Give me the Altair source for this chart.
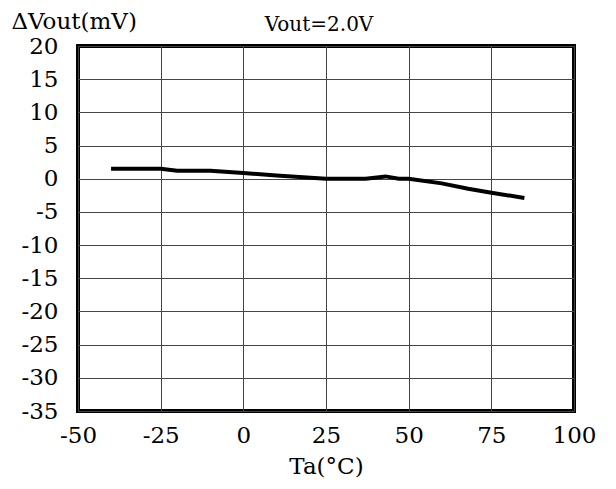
import altair as alt
import pandas as pd

temps = [-40, -25, -20, -10, 0, 10, 25, 37, 43, 47, 50, 60, 68, 75, 85]
dvout = [1.5, 1.5, 1.2, 1.2, 0.85, 0.5, 0.0, 0.0, 0.35, 0.0, 0.0, -0.7, -1.5, -2.1, -2.9]
x_ticks = [-50, -25, 0, 25, 50, 75, 100]
y_ticks = [20, 15, 10, 5, 0, -5, -10, -15, -20, -25, -30, -35]

df = pd.DataFrame({"Ta": temps, "dV": dvout})
FONT = "DejaVu Serif"
LBL = "toString(datum.value)"

chart = alt.Chart(df).mark_line(color="black", strokeWidth=4).encode(
    x=alt.X("Ta:Q", scale=alt.Scale(domain=[-50, 100], nice=False),
            axis=alt.Axis(values=x_ticks, title="Ta(°C)", grid=True, domain=False, ticks=False,
                          labelExpr=LBL,
                          labelPadding=13, titlePadding=8, labelFontSize=23, titleFontSize=23,
                          labelFont=FONT, titleFont=FONT, labelColor="black", titleColor="black",
                          titleFontWeight="normal", gridColor="#444", gridWidth=1,
                          labelFlush=False)),
    y=alt.Y("dV:Q", scale=alt.Scale(domain=[-35, 20], nice=False),
            axis=alt.Axis(values=y_ticks, title="ΔVout(mV)", grid=True, domain=False, ticks=False,
                          labelExpr=LBL,
                          labelPadding=20, labelFontSize=23, titleFontSize=23,
                          labelFont=FONT, titleFont=FONT, labelColor="black", titleColor="black",
                          titleFontWeight="normal", titleAngle=0, titleAlign="left",
                          titleBaseline="alphabetic", titleX=-67, titleY=-18,
                          gridColor="#444", gridWidth=1, labelFlush=False)),
).properties(
    width=496, height=365,
    title=alt.TitleParams("Vout=2.0V", font=FONT, fontSize=20, fontWeight="normal",
                          color="black", anchor="middle", dx=-7, dy=35, offset=10),
    autosize=alt.AutoSizeParams(type="none"),
    padding={"left": 70, "top": 38, "right": 30, "bottom": 70},
).configure_view(stroke="black", strokeWidth=4)

chart.save("out.html", embed_options={"renderer": "svg", "actions": False})
